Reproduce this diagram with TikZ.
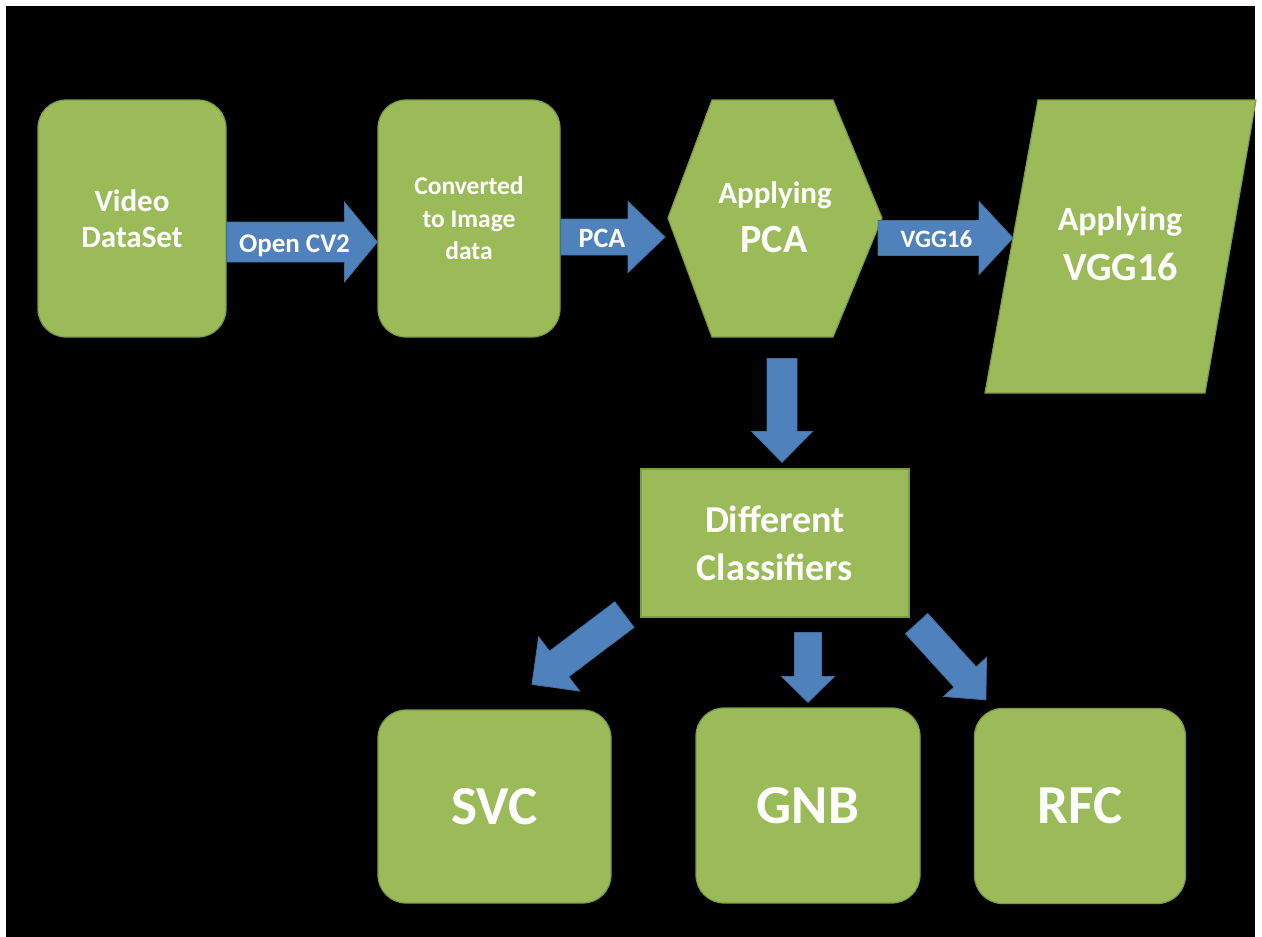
\documentclass[tikz,border=0pt]{standalone}
\usepackage{fontspec}
\setmainfont{Carlito}
\usetikzlibrary{calc}
\definecolor{boxgreen}{HTML}{9BBB59}
\definecolor{boxedge}{HTML}{7D9B45}
\definecolor{arrblue}{HTML}{4F81BD}
\definecolor{arredge}{HTML}{41709F}
\newcommand\fsz[2]{\fontsize{#1}{#2}\selectfont\bfseries}
% start, end, half shaft width, half head width, head length
\newcommand\blockarrow[5]{%
  \coordinate (bh) at ($(#2)!#5!(#1)$);
  \filldraw[blockarrowstyle] ($(#1)!#3!90:(#2)$) -- ($(bh)!#3!90:(#2)$) -- ($(bh)!#4!90:(#2)$) -- (#2)
    -- ($(bh)!#4!-90:(#2)$) -- ($(bh)!#3!-90:(#2)$) -- ($(#1)!#3!-90:(#2)$) -- cycle;}
\tikzset{
  box/.style={fill=boxgreen, draw=boxedge, line width=1.2pt, text=white, align=center, inner sep=0pt},
  rbox/.style={box, rounded corners=28pt},
  shapebox/.style={fill=boxgreen, draw=boxedge, line width=1.2pt, line join=miter},
  txt/.style={text=white, inner sep=0pt, anchor=base},
  blockarrowstyle/.style={fill=arrblue, draw=arredge, line width=0.8pt, line join=miter}
}
\begin{document}
\begin{tikzpicture}[x=1pt,y=-1pt]
\useasboundingbox (0,0) rectangle (1262,937);
\fill[white] (0,0) rectangle (1262,937);
\fill[black] (6,6) rectangle (1255,937);

% boxes
\node[rbox, minimum width=188pt, minimum height=237pt, font=\fsz{31}{36}] (vid) at (132,218.5) {Video\\DataSet};
\node[rbox, minimum width=182pt, minimum height=237pt, font=\fsz{25.5}{32.5}] (conv) at (469,218.5) {Converted\\to Image\\data};

% hexagon
\coordinate (hexL) at (668,218);
\coordinate (hexTL) at (712,100);
\coordinate (hexTR) at (833,100);
\coordinate (hexR) at (882,218);
\coordinate (hexBR) at (833,337);
\coordinate (hexBL) at (712,337);
\filldraw[shapebox] (hexL) -- (hexTL) -- (hexTR) -- (hexR) -- (hexBR) -- (hexBL) -- cycle;
\node[txt, font=\fsz{31}{36}] (hexA) at (775,203) {Applying};
\node[txt, font=\fsz{40}{44}] (hexB) at (774,252) {PCA};

% parallelogram
\coordinate (pTL) at (1038,100);
\coordinate (pTR) at (1256,100);
\coordinate (pBR) at (1205,393);
\coordinate (pBL) at (985,393);
\filldraw[shapebox] (pTL) -- (pTR) -- (pBR) -- (pBL) -- cycle;
\node[txt, font=\fsz{34}{38}] (parA) at (1120,230) {Applying};
\node[txt, font=\fsz{40}{44}] (parB) at (1120.5,280) {VGG16};

% classifiers
\node[box, minimum width=268pt, minimum height=148pt, font=\fsz{38}{48}] (cls) at (775,543) {Different\\Classifiers};
\node[rbox, minimum width=233pt, minimum height=193pt, font=\fsz{55}{60}] (svc) at (494.5,806.5) {SVC};
\node[rbox, minimum width=224pt, minimum height=195pt, font=\fsz{55}{60}] (gnb) at (808,805.5) {GNB};
\node[rbox, minimum width=211pt, minimum height=195pt, font=\fsz{55}{60}] (rfc) at (1080,806) {RFC};

% arrow end points
\coordinate (a1s) at ($(vid.east)+(0,23.5)$);
\coordinate (a1e) at ($(conv.west)+(0,23.5)$);
\coordinate (a2s) at ($(conv.east)+(0,18.5)$);
\coordinate (a2e) at ($(hexL)+(-3,19)$);
\coordinate (a3s) at ($(hexR)+(-4,20)$);
\coordinate (a3e) at ($(pTL)!0.471!(pBL)$);
\coordinate (a4s) at ($(cls.north)+(7,-110)$);
\coordinate (a4e) at ($(cls.north)+(7,-6)$);
\coordinate (a5s) at ($(cls.south west)+(-16,-3)$);
\coordinate (a5e) at ($(svc.north)+(37.5,-25)$);
\coordinate (a6s) at ($(cls.south)+(33,15)$);
\coordinate (a6e) at ($(gnb.north)+(0,-5)$);
\coordinate (a7s) at ($(cls.south east)+(7,6)$);
\coordinate (a7e) at ($(rfc.north west)+(12,-8)$);

\blockarrow{a1s}{a1e}{20pt}{40pt}{33pt}
\blockarrow{a2s}{a2e}{18pt}{35.5pt}{37pt}
\blockarrow{a3s}{a3e}{17.5pt}{36.5pt}{34pt}
\blockarrow{a4s}{a4e}{15pt}{30.5pt}{31pt}
\blockarrow{a5s}{a5e}{16pt}{34pt}{34pt}
\blockarrow{a6s}{a6e}{13.5pt}{26.5pt}{26pt}
\blockarrow{a7s}{a7e}{15pt}{29pt}{31pt}

% arrow labels
\node[txt, font=\fsz{27}{30}] (lcv) at (294.5,252) {Open CV2};
\node[txt, font=\fsz{28}{30}] (lpca) at (602,247) {PCA};
\node[txt, font=\fsz{25}{30}] (lvgg) at (936.5,247) {VGG16};
\end{tikzpicture}
\end{document}
